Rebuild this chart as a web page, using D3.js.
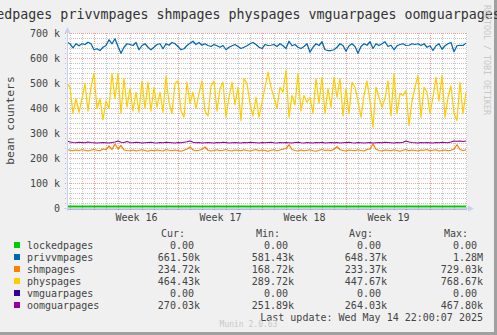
<!DOCTYPE html>
<html><head><meta charset="utf-8">
<script src="https://cdn.jsdelivr.net/npm/d3@7"></script>
<style>
html,body{margin:0;padding:0;background:#F0F0F0;}
svg{display:block;font-family:"DejaVu Sans Mono",monospace;}
</style></head><body>
<svg id="chart" width="497" height="335"></svg>
<script>
// Sampling: one value every 6 hours (UTC)
const sampleStart = Date.UTC(2025, 3, 11, 18, 0, 0);
const sampleStepHours = 6;
const rangeEnd = Date.UTC(2025, 4, 15, 2, 0, 0);

// Series values, in thousands of pages
const lockedPages = [
0,0,0,0,0,0,0,0,0,0, 0,0,0,0,0,0,0,0,0,0, 0,0,0,0,0,0,0,0,0,0,
0,0,0,0,0,0,0,0,0,0, 0,0,0,0,0,0,0,0,0,0, 0,0,0,0,0,0,0,0,0,0,
0,0,0,0,0,0,0,0,0,0, 0,0,0,0,0,0,0,0,0,0, 0,0,0,0,0,0,0,0,0,0,
0,0,0,0,0,0,0,0,0,0, 0,0,0,0,0,0,0,0,0,0, 0,0,0,0,0,0,0,0,0,0,
0,0,0,0,0,0,0,0,0,0, 0,0,0,0];
const privvmPages = [
665,659,643,659,651,659,656,665,659,635,
639,632,645,652,675,659,679,648,621,645,
659,656,652,664,635,652,659,645,635,645,
656,659,639,659,653,664,659,648,635,639,
652,661,669,656,664,653,659,652,648,656,
651,645,652,635,645,651,656,648,640,645,
651,659,664,656,645,640,656,652,653,656,
648,659,651,640,669,651,656,645,640,648,
659,625,645,659,652,667,635,632,632,635,
645,659,652,629,651,659,648,621,648,659,
653,667,640,659,652,659,667,648,653,635,
651,656,659,652,653,659,656,659,652,659,
645,651,632,651,659,637,651,659,664,627,
651,653,652,661.5];
const shmPages = [
236,233,231,234,232,235,233,230,234,236,
233,231,238,235,250,236,258,238,252,234,
232,231,234,230,233,235,232,229,233,231,
234,232,230,236,233,231,234,232,229,233,
238,246,234,231,233,236,246,233,230,232,
235,231,233,236,232,230,234,233,231,235,
232,230,233,236,231,234,232,229,233,235,
231,234,237,240,255,236,232,230,234,231,
233,235,231,229,233,236,232,234,231,237,
247,235,232,230,234,233,231,235,232,230,
236,238,258,237,232,230,234,233,231,235,
232,229,233,236,231,234,232,230,234,233,
236,231,233,235,230,232,234,231,233,238,
255,236,232,234.72];
const physPages = [
500,485,380,440,385,440,500,390,485,540,
400,440,355,430,400,540,440,540,380,520,
405,480,390,465,385,510,400,505,390,485,
405,465,385,530,425,380,500,510,390,365,
505,420,465,400,460,510,390,370,490,510,
390,480,505,365,445,505,415,485,352,520,
500,420,370,445,365,425,485,545,485,445,
400,485,465,552,365,452,415,540,390,452,
425,445,380,520,420,525,380,480,405,525,
445,520,370,480,380,505,485,430,365,452,
510,430,325,485,445,405,440,510,370,540,
380,460,452,472,332,430,485,532,365,485,
465,380,445,525,430,532,365,445,490,380,
352,505,380,464.43];
const vmguarPages = [
0,0,0,0,0,0,0,0,0,0, 0,0,0,0,0,0,0,0,0,0, 0,0,0,0,0,0,0,0,0,0,
0,0,0,0,0,0,0,0,0,0, 0,0,0,0,0,0,0,0,0,0, 0,0,0,0,0,0,0,0,0,0,
0,0,0,0,0,0,0,0,0,0, 0,0,0,0,0,0,0,0,0,0, 0,0,0,0,0,0,0,0,0,0,
0,0,0,0,0,0,0,0,0,0, 0,0,0,0,0,0,0,0,0,0, 0,0,0,0,0,0,0,0,0,0,
0,0,0,0,0,0,0,0,0,0, 0,0,0,0];
const oomguarPages = [
270,266,264,263,265,264,263,266,264,263,
262,263,264,263,262,264,266,270,265,264,
268,264,263,265,264,262,263,264,265,263,
262,264,263,265,264,263,262,264,263,265,
267,270,265,263,264,262,263,264,263,262,
264,263,265,264,262,263,264,263,262,264,
263,265,264,263,262,264,263,264,265,263,
262,264,263,264,263,262,264,265,263,262,
264,263,262,264,263,265,262,263,264,263,
264,262,263,264,265,263,262,264,263,262,
263,264,262,263,264,263,265,264,263,262,
264,263,265,270,266,264,263,262,264,263,
264,263,262,264,263,265,264,263,266,270,
269,270,268,270.03];

const seriesNames = ["lockedpages","privvmpages","shmpages","physpages","vmguarpages","oomguarpages"];
const seriesValues = [lockedPages, privvmPages, shmPages, physPages, vmguarPages, oomguarPages];
const seriesColors = ["#00CC00","#0066B3","#FF8000","#FFCC00","#330099","#990099"];

const curValues = ["0.00","661.50k","234.72k","464.43k","0.00","270.03k"];
const minValues = ["0.00","581.43k","168.72k","289.72k","0.00","251.89k"];
const avgValues = ["0.00","648.37k","233.37k","447.67k","0.00","264.03k"];
const maxValues = ["0.00","1.28M","729.03k","768.67k","0.00","467.80k"];
const columnHeaders = ["Cur:","Min:","Avg:","Max:"];

const yTicks = [0,100,200,300,400,500,600,700];
const yTickLabels = ["0","100 k","200 k","300 k","400 k","500 k","600 k","700 k"];
const weekStarts = [Date.UTC(2025,3,14), Date.UTC(2025,3,21), Date.UTC(2025,3,28), Date.UTC(2025,4,5)];
const weekLabels = ["Week 16","Week 17","Week 18","Week 19"];

const titleText = "edpages privvmpages shmpages physpages vmguarpages oomguarpages";
const yAxisTitle = "bean counters";
const lastUpdate = "Last update: Wed May 14 22:00:07 2025";
const versionText = "Munin 2.0.63";
const sideText = "RRDTOOL / TOBI OETIKER";

const W = 497, H = 335;
const plot = {left: 67, right: 467, top: 33, bottom: 208};

const svg = d3.select("#chart");
const textColor = "#444";

// background and frame
svg.append("rect").attr("width", W).attr("height", H).attr("fill", "#F0F0F0");
svg.append("rect").attr("x", W - 3).attr("y", 0).attr("width", 3).attr("height", H).attr("fill", "#A0A0A0");
svg.append("rect").attr("x", 0).attr("y", H - 3).attr("width", W).attr("height", 3).attr("fill", "#A0A0A0");

const x = d3.scaleUtc().domain([new Date(sampleStart), new Date(rangeEnd)]).range([plot.left, plot.right]);
const y = d3.scaleLinear().domain([0, 700]).range([plot.bottom, plot.top]);

svg.append("rect")
  .attr("x", plot.left).attr("y", plot.top)
  .attr("width", plot.right - plot.left).attr("height", plot.bottom - plot.top)
  .attr("fill", "#FFFFFF");

// grid
const grid = svg.append("g").attr("stroke-dasharray", "1,1").attr("stroke-width", 1);
const minorColor = "rgba(150,150,150,0.55)";
const majorColor = "rgba(229,0,0,0.38)";
const [d0, d1] = x.domain();
d3.utcDay.range(d0, d1).filter(d => d.getUTCDay() !== 1).forEach(d => {
  const px = Math.round(x(d)) + 0.5;
  grid.append("line").attr("x1", px).attr("x2", px).attr("y1", plot.top).attr("y2", plot.bottom + 2).attr("stroke", minorColor);
});
d3.range(20, 701, 20).filter(v => v % 100 !== 0).forEach(v => {
  const py = Math.round(y(v)) + 0.5;
  grid.append("line").attr("x1", plot.left - 2).attr("x2", plot.right).attr("y1", py).attr("y2", py).attr("stroke", minorColor);
});
d3.utcMonday.range(d0, d1).forEach(d => {
  const px = Math.round(x(d)) + 0.5;
  grid.append("line").attr("x1", px).attr("x2", px).attr("y1", plot.top).attr("y2", plot.bottom + 2).attr("stroke", majorColor);
});
yTicks.filter(v => v > 0).forEach(v => {
  const py = Math.round(y(v)) + 0.5;
  grid.append("line").attr("x1", plot.left - 2).attr("x2", plot.right).attr("y1", py).attr("y2", py).attr("stroke", majorColor);
});

// axis labels
const yAxis = d3.axisLeft(y).tickValues(yTicks).tickFormat((d, i) => yTickLabels[i]).tickSize(0).tickPadding(7);
const gy = svg.append("g").attr("transform", `translate(${plot.left},0)`).call(yAxis);
gy.select(".domain").remove();
gy.selectAll("text").attr("font-family", "DejaVu Sans Mono").attr("font-size", "10px").attr("fill", textColor);

const weekMids = weekStarts.map(t => new Date(t + 3.5 * 86400000));
const xAxis = d3.axisBottom(x).tickValues(weekMids).tickFormat((d, i) => weekLabels[i]).tickSize(0).tickPadding(5.4);
const gx = svg.append("g").attr("transform", `translate(0,${plot.bottom})`).call(xAxis);
gx.select(".domain").remove();
gx.selectAll("text").attr("font-family", "DejaVu Sans Mono").attr("font-size", "10px").attr("fill", textColor);

// series lines
const line = d3.line()
  .x((d, i) => x(new Date(sampleStart + i * sampleStepHours * 3600000)))
  .y(d => y(d));
seriesValues.forEach((vals, k) => {
  svg.append("path")
    .datum(vals)
    .attr("fill", "none")
    .attr("stroke", seriesColors[k])
    .attr("stroke-width", k === 0 ? 2 : 1.25)
    .attr("stroke-linejoin", "round")
    .attr("transform", k === 0 ? "translate(0,-1.5)" : "translate(0,0.5)")
    .attr("d", line);
});

// axes with arrows
const axisColor = "#C9D0F6";
const yb = Math.round(y(0)) + 0.5;
svg.append("line").attr("x1", plot.left - 3).attr("x2", plot.right + 2).attr("y1", yb).attr("y2", yb).attr("stroke", axisColor);
svg.append("line").attr("x1", plot.left + 0.5).attr("x2", plot.left + 0.5).attr("y1", plot.bottom + 3).attr("y2", plot.top - 3).attr("stroke", axisColor);
svg.append("path").attr("d", `M${plot.left - 2.5},${plot.top} L${plot.left + 3.5},${plot.top} L${plot.left + 0.5},${plot.top - 6}Z`).attr("fill", axisColor);
svg.append("path").attr("d", `M${plot.right + 1},${yb - 3} L${plot.right + 1},${yb + 3} L${plot.right + 7},${yb}Z`).attr("fill", axisColor);

// title and axis title
svg.append("text").attr("x", 248.5).attr("y", 18.5).attr("text-anchor", "middle")
  .attr("font-size", "13.3px").attr("fill", "#333").text(titleText);
svg.append("text").attr("transform", `translate(14,${(plot.top + plot.bottom) / 2}) rotate(-90)`)
  .attr("text-anchor", "middle").attr("font-size", "11.3px").attr("fill", textColor).text(yAxisTitle);

// watermark
svg.append("text").attr("transform", "translate(484,5) rotate(90)")
  .attr("font-size", "8.3px").attr("fill", "#C8C8C8").text(sideText);

// legend
const legend = svg.append("g").attr("font-size", "10px").attr("fill", textColor);
const headerEnds = [185, 280, 373, 468];
const valueEnds = [200, 294, 387, 483];
const columns = [curValues, minValues, avgValues, maxValues];
columnHeaders.forEach((h, c) => {
  legend.append("text").attr("x", headerEnds[c]).attr("y", 236.5).attr("text-anchor", "end").text(h);
});
seriesNames.forEach((name, r) => {
  const cy = 245 + r * 12;
  legend.append("rect").attr("x", 14).attr("y", cy - 3).attr("width", 6).attr("height", 6).attr("fill", seriesColors[r]);
  legend.append("text").attr("x", 27).attr("y", cy + 3.5).text(name);
  columns.forEach((col, c) => {
    const v = col[r];
    const hasUnit = /[kM]$/.test(v);
    legend.append("text")
      .attr("x", valueEnds[c]).attr("y", cy + 3.5).attr("text-anchor", "end")
      .style("white-space", "pre")
      .text(hasUnit ? v : v + " ");
  });
});
legend.append("text").attr("x", 483).attr("y", 320.5).attr("text-anchor", "end").text(lastUpdate);
svg.append("text").attr("x", 248.5).attr("y", 327).attr("text-anchor", "middle")
  .attr("font-size", "8px").attr("fill", "#C8C8C8").text(versionText);
</script></body></html>
